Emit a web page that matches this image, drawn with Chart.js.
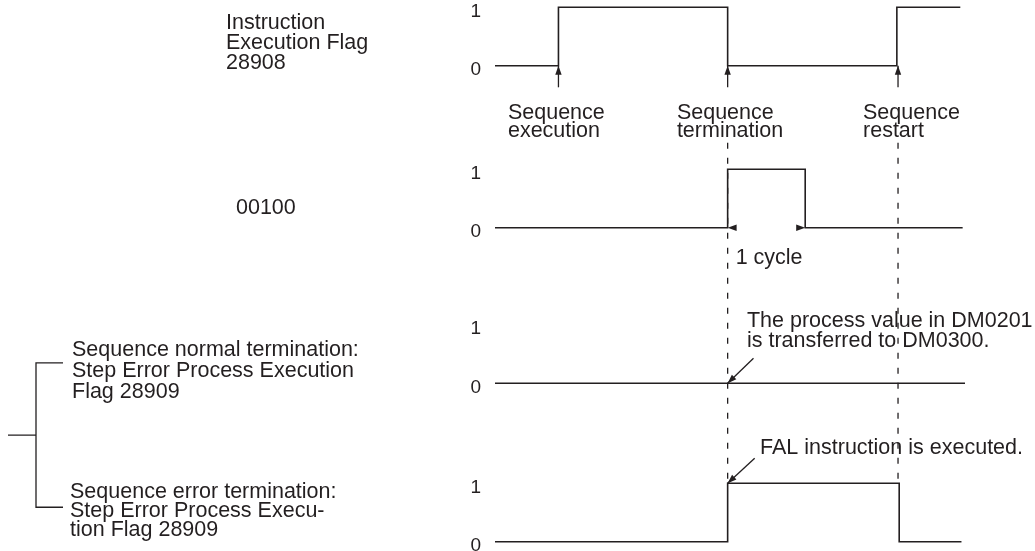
<!DOCTYPE html>
<html>
<head>
<meta charset="utf-8">
<script src="https://cdn.jsdelivr.net/npm/chart.js@4"></script>
<style>
  html, body { margin: 0; padding: 0; background: #fff; }
  #wrap { width: 1035px; height: 551px; position: relative; }
</style>
</head>
<body>
<div id="wrap"><canvas id="myChart"></canvas></div>
<script>
// timing of each signal (time units, 0 = left end of the traces), level after each change
const flagTimes = [0, 2.7, 9.9, 17.1, 19.8];
const flagLevels = [0, 1, 0, 1, 1];
const outTimes = [0, 9.9, 13.2, 19.9];
const outLevels = [0, 1, 0, 0];
const normalTimes = [0, 20];
const normalLevels = [0, 0];
const errorTimes = [0, 9.9, 17.2, 19.85];
const errorLevels = [0, 1, 0, 0];

const eventTimes = [2.7, 9.9, 17.15];
const eventNames = [["Sequence", "execution"], ["Sequence", "termination"], ["Sequence", "restart"]];
const cycleTimes = [9.9, 13.2];
const tickLabels = ["0", "1"];

const rowNames = [
  ["Instruction", "Execution Flag", "28908"],
  ["00100"],
  ["Sequence normal termination:", "Step Error Process Execution", "Flag 28909"],
  ["Sequence error termination:", "Step Error Process Execu-", "tion Flag 28909"],
];

// layout: where each trace's 0 level sits on the y scale (1 unit = one signal swing)
const laneZero = [8.31, 5.536, 2.872, 0.159];
const Y_MAX = 9.435;
const ink = "#231f20";
const textFont = "21.5px 'Liberation Sans', Arial, Helvetica, sans-serif";

function traceData(times, levels, lane) {
  return times.map((t, i) => ({ x: t, y: laneZero[lane] + levels[i] }));
}

function trace(times, levels, lane) {
  return {
    data: traceData(times, levels, lane),
    stepped: true,
    borderColor: ink,
    borderWidth: 1.6,
    pointRadius: 0,
    fill: false,
    clip: false,
  };
}

function arrowHead(ctx, x, y, angle) {
  ctx.save();
  ctx.translate(x, y);
  ctx.rotate(angle);
  ctx.beginPath();
  ctx.moveTo(0, 0);
  ctx.lineTo(-9, -3.2);
  ctx.lineTo(-9, 3.2);
  ctx.closePath();
  ctx.fill();
  ctx.restore();
}

function arrow(ctx, x1, y1, x2, y2) {
  ctx.beginPath();
  ctx.moveTo(x1, y1);
  ctx.lineTo(x2, y2);
  ctx.stroke();
  arrowHead(ctx, x2, y2, Math.atan2(y2 - y1, x2 - x1));
}

function lines(ctx, list, x, y, step) {
  list.forEach((s, i) => ctx.fillText(s, x, y + i * step));
}

const notes = {
  id: "notes",
  beforeDatasetsDraw(chart) {
    const ctx = chart.ctx;
    const xs = chart.scales.x, ys = chart.scales.y;
    const py = (lane, level) => ys.getPixelForValue(laneZero[lane] + level);
    ctx.save();
    ctx.strokeStyle = ink;
    ctx.lineWidth = 1.3;
    ctx.setLineDash([6, 9]);
    [eventTimes[1], eventTimes[2]].forEach((t) => {
      const x = xs.getPixelForValue(t);
      ctx.beginPath();
      ctx.moveTo(x, py(0, -1.32));
      ctx.lineTo(x, py(3, 1));
      ctx.stroke();
    });
    ctx.restore();
  },
  afterDatasetsDraw(chart) {
    const ctx = chart.ctx;
    const xs = chart.scales.x, ys = chart.scales.y;
    const px = (t) => xs.getPixelForValue(t);
    const py = (lane, level) => ys.getPixelForValue(laneZero[lane] + level);
    ctx.save();
    ctx.strokeStyle = ink;
    ctx.fillStyle = ink;
    ctx.lineWidth = 1.3;
    ctx.font = textFont;
    ctx.textBaseline = "middle";
    ctx.textAlign = "left";

    // event arrows and names under the flag trace
    eventTimes.forEach((t, i) => {
      arrow(ctx, px(t), py(0, -0.37), px(t), py(0, 0));
      const off = [-2.15, -2.16, -1.49][i];
      lines(ctx, eventNames[i], px(t + off), py(0, -0.81), 18);
    });

    // one cycle span
    const y1 = py(1, 0);
    arrowHead(ctx, px(cycleTimes[0]), y1, Math.PI);
    arrowHead(ctx, px(cycleTimes[1]), y1, 0);
    ctx.fillText("1 cycle", px(cycleTimes[0] + 0.34), py(1, -0.52));

    // normal termination note
    arrow(ctx, px(eventTimes[1] + 1.1), py(2, 0.43), px(eventTimes[1]), py(2, 0));
    lines(ctx, ["The process value in DM0201", "is transferred to DM0300."],
      px(eventTimes[1] + 0.82), py(2, 1.06), 20);

    // error termination note
    arrow(ctx, px(eventTimes[1] + 1.15), py(3, 1.43), px(eventTimes[1]), py(3, 1));
    ctx.fillText("FAL instruction is executed.", px(eventTimes[1] + 1.38), py(3, 1.6));

    // row names on the left
    lines(ctx, rowNames[0], 226, py(0, 0.73), 20);
    lines(ctx, rowNames[1], 236, py(1, 0.34), 20);
    lines(ctx, rowNames[2], 72, py(2, 0.57), 21);
    lines(ctx, rowNames[3], 70, py(3, 0.85), 19);

    // bracket joining the two 28909 cases
    const top = py(2, 0.35), bot = py(3, 0.59), mid = (top + bot) / 2;
    ctx.beginPath();
    ctx.moveTo(63, top); ctx.lineTo(36, top); ctx.lineTo(36, bot); ctx.lineTo(63, bot);
    ctx.moveTo(8, mid); ctx.lineTo(36, mid);
    ctx.stroke();
    ctx.restore();
  },
};

const ctx = document.getElementById("myChart").getContext("2d");
const myChart = new Chart(ctx, {
  type: "line",
  data: {
    datasets: [
      trace(flagTimes, flagLevels, 0),
      trace(outTimes, outLevels, 1),
      trace(normalTimes, normalLevels, 2),
      trace(errorTimes, errorLevels, 3),
    ],
  },
  options: {
    responsive: true,
    maintainAspectRatio: false,
    animation: false,
    layout: { padding: { left: 0, right: 70, top: 0, bottom: 0 } },
    plugins: { legend: { display: false }, tooltip: { enabled: false } },
    scales: {
      x: { type: "linear", min: 0, max: 20, display: false },
      y: {
        min: 0,
        max: Y_MAX,
        grid: { display: false, drawTicks: false },
        border: { display: false },
        afterBuildTicks: (s) => {
          s.ticks = laneZero.flatMap((z) => [{ value: z }, { value: z + 1 }]);
        },
        afterFit: (s) => {
          s.width = 495;
          s.paddingTop = 0;
          s.paddingBottom = 0;
        },
        ticks: {
          autoSkip: false,
          padding: 14,
          labelOffset: 4,
          color: ink,
          font: { family: "'Liberation Sans', Arial, sans-serif", size: 19 },
          callback: (v, i) => tickLabels[i % 2],
        },
      },
    },
  },
  plugins: [notes],
});
</script>
</body>
</html>
